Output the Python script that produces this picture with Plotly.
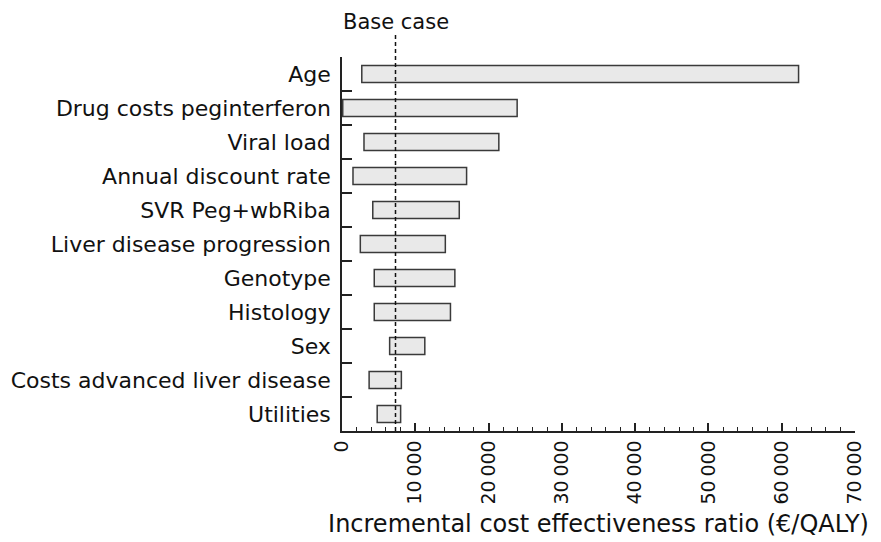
import plotly.graph_objects as go

categories = ["Age", "Drug costs peginterferon", "Viral load", "Annual discount rate",
              "SVR Peg+wbRiba", "Liver disease progression", "Genotype", "Histology",
              "Sex", "Costs advanced liver disease", "Utilities"]
low_values = [2700, 100, 3000, 1500, 4200, 2500, 4400, 4400, 6500, 3700, 4800]
high_values = [62300, 23900, 21400, 17000, 16000, 14100, 15400, 14800, 11300, 8100, 8000]
base_case = 7300
tick_values = [0, 10000, 20000, 30000, 40000, 50000, 60000, 70000]
tick_labels = ["0", "10\u2009000", "20\u2009000", "30\u2009000", "40\u2009000",
               "50\u2009000", "60\u2009000", "70\u2009000"]

FONT = "DejaVu Sans"

fig = go.Figure()
fig.add_trace(go.Bar(
    y=categories,
    x=[h - l for h, l in zip(high_values, low_values)],
    base=low_values,
    orientation="h",
    width=0.5,
    marker=dict(color="#e9e9e9", line=dict(color="#3a3a3a", width=1.5)),
    hoverinfo="skip",
))

fig.add_shape(type="line", xref="x", yref="paper", x0=base_case, x1=base_case,
              y0=0, y1=1.06, line=dict(color="#111", width=1.5, dash="4px,3px"))
fig.add_annotation(x=base_case, xref="x", y=1.0, yref="paper", yshift=35,
                   text="Base case", showarrow=False, xanchor="center", yanchor="middle",
                   font=dict(family=FONT, size=21, color="#111"))

fig.update_layout(
    width=873, height=534,
    margin=dict(l=334, r=26, t=49, b=111),
    paper_bgcolor="white", plot_bgcolor="white",
    showlegend=False,
    font=dict(family=FONT, size=18, color="#111"),
)
fig.update_xaxes(
    range=[0, 70000], tickvals=tick_values, ticktext=tick_labels, tickangle=-90,
    showgrid=False, zeroline=False, showline=True, linecolor="#222", linewidth=1.5,
    ticks="inside", ticklen=8, tickwidth=1.5, tickcolor="#222",
    minor=dict(dtick=2000, ticks="inside", ticklen=4, tickwidth=1.2, tickcolor="#222"),
    title=dict(text="Incremental cost effectiveness ratio (€/QALY)", standoff=12,
               font=dict(family=FONT, size=24)),
    tickfont=dict(family=FONT, size=19),
    automargin=False,
)
fig.update_yaxes(
    categoryorder="array", categoryarray=categories, autorange="reversed",
    showgrid=False, zeroline=False, showline=True, linecolor="#222", linewidth=1.5,
    ticks="inside", tickson="boundaries", ticklen=10, tickwidth=1.5, tickcolor="#222",
    tickfont=dict(family=FONT, size=22), ticklabelstandoff=5,
    automargin=False,
)

fig.write_html("out.html")
